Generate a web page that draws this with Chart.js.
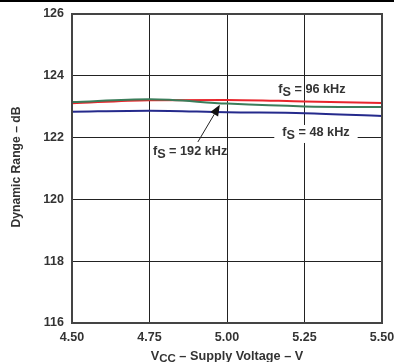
<!DOCTYPE html>
<html>
<head>
<meta charset="utf-8">
<script src="https://cdn.jsdelivr.net/npm/chart.js@4/dist/chart.umd.min.js"></script>
<style>
  html, body { margin: 0; padding: 0; background: #fff; }
  #wrap { width: 394px; height: 362px; position: relative; }
</style>
</head>
<body>
<div id="wrap"><canvas id="chart" width="394" height="362"></canvas></div>
<script>
// supply voltage (V)
const voltages = [4.50, 4.75, 5.00, 5.25, 5.50];
// dynamic range (dB) for each sampling rate
const fs96 = [123.11, 123.21, 123.22, 123.17, 123.12];
const fs192 = [123.15, 123.24, 123.10, 123.01, 122.99];
const fs48 = [122.84, 122.87, 122.82, 122.79, 122.70];

const xTicks = [4.50, 4.75, 5.00, 5.25, 5.50];
const yTicks = [116, 118, 120, 122, 124, 126];

// curve labels, in data units
const labels = [
  { main: "f", sub: "S", rest: " = 96 kHz", x: 5.274, y: 123.57, bg: false },
  { main: "f", sub: "S", rest: " = 48 kHz", x: 5.287, y: 122.15, bg: true },
  { main: "f", sub: "S", rest: " = 192 kHz", x: 4.881, y: 121.54, bg: false }
];
const arrowFrom = { x: 4.906, y: 121.86 };
const arrowTo = { x: 4.977, y: 123.06 };

const FONT = "'Liberation Sans', Arial, sans-serif";

function toPoints(vals) {
  return vals.map((v, i) => ({ x: voltages[i], y: v }));
}

function drawSubText(ctx, parts, cx, cy, size) {
  ctx.font = "bold " + size + "px " + FONT;
  const w1 = ctx.measureText(parts.main).width;
  const w2 = ctx.measureText(parts.sub).width;
  const w3 = ctx.measureText(parts.rest).width;
  const total = w1 + w2 + w3;
  let x = cx - total / 2;
  ctx.textBaseline = "middle";
  ctx.textAlign = "left";
  ctx.fillText(parts.main, x, cy);
  x += w1;
  ctx.fillText(parts.sub, x, cy + 3);
  x += w2;
  ctx.fillText(parts.rest, x, cy);
  return total;
}

const extras = {
  id: "extras",
  afterDatasetsDraw(chart) {
    const ctx = chart.ctx;
    const xs = chart.scales.x, ys = chart.scales.y;
    const area = chart.chartArea;
    ctx.save();
    // frame
    ctx.strokeStyle = "#444";
    ctx.lineWidth = 2;
    ctx.strokeRect(area.left, area.top, area.right - area.left, area.bottom - area.top);

    // curve labels
    ctx.fillStyle = "#333";
    labels.forEach((l) => {
      const px = xs.getPixelForValue(l.x);
      const py = ys.getPixelForValue(l.y);
      ctx.font = "bold 12.7px " + FONT;
      const w = ctx.measureText(l.main + l.sub + l.rest).width;
      if (l.bg) {
        ctx.fillStyle = "#fff";
        ctx.fillRect(px - w / 2 - 8, py - 8, w + 16, 18);
        ctx.fillStyle = "#333";
      }
      drawSubText(ctx, l, px, py, 12.7);
    });

    // arrow
    const ax = xs.getPixelForValue(arrowFrom.x), ay = ys.getPixelForValue(arrowFrom.y);
    const bx = xs.getPixelForValue(arrowTo.x), by = ys.getPixelForValue(arrowTo.y);
    const ang = Math.atan2(by - ay, bx - ax);
    const headLen = 11, headW = 4.5;
    ctx.strokeStyle = "#222";
    ctx.lineWidth = 1;
    ctx.beginPath();
    ctx.moveTo(ax, ay);
    ctx.lineTo(bx - Math.cos(ang) * headLen, by - Math.sin(ang) * headLen);
    ctx.stroke();
    ctx.fillStyle = "#111";
    ctx.beginPath();
    ctx.moveTo(bx, by);
    ctx.lineTo(bx - Math.cos(ang) * headLen - Math.sin(ang) * headW, by - Math.sin(ang) * headLen + Math.cos(ang) * headW);
    ctx.lineTo(bx - Math.cos(ang) * headLen + Math.sin(ang) * headW, by - Math.sin(ang) * headLen - Math.cos(ang) * headW);
    ctx.closePath();
    ctx.fill();

    // y axis title
    ctx.fillStyle = "#333";
    ctx.save();
    ctx.translate(17, 167);
    ctx.rotate(-Math.PI / 2);
    ctx.font = "bold 12.2px " + FONT;
    ctx.textAlign = "center";
    ctx.textBaseline = "middle";
    ctx.fillText("Dynamic Range \u2013 dB", 0, 0);
    ctx.restore();

    // x title with subscript CC
    const tx = (area.left + area.right) / 2, ty = 356;
    const mainFont = "bold 12.7px " + FONT, subFont = "bold 11.5px " + FONT;
    const p1 = "V", p3 = " \u2013 Supply Voltage \u2013 V";
    ctx.font = mainFont;
    const w1 = ctx.measureText(p1).width;
    const w3 = ctx.measureText(p3).width;
    ctx.font = subFont;
    const w2 = ctx.measureText("CC").width;
    let x = tx - (w1 + w2 + w3) / 2;
    ctx.textAlign = "left";
    ctx.textBaseline = "middle";
    ctx.font = mainFont;
    ctx.fillText(p1, x, ty);
    x += w1;
    ctx.font = subFont;
    ctx.fillText("CC", x, ty + 3);
    x += w2;
    ctx.font = mainFont;
    ctx.fillText(p3, x, ty);

    // black rule along the top edge
    ctx.fillStyle = "#000";
    ctx.fillRect(0, 0, chart.width, 2);
    ctx.restore();
  }
};

new Chart(document.getElementById("chart").getContext("2d"), {
  type: "line",
  data: {
    datasets: [
      { label: "fS = 48 kHz", data: toPoints(fs48), borderColor: "#252a8c" },
      { label: "fS = 192 kHz", data: toPoints(fs192), borderColor: "#3b7d5a" },
      { label: "fS = 96 kHz", data: toPoints(fs96), borderColor: "#e8262c" }
    ].map((d) => Object.assign(d, {
      borderWidth: 2,
      pointRadius: 0,
      fill: false,
      cubicInterpolationMode: "monotone",
      tension: 0.4
    }))
  },
  options: {
    responsive: false,
    animation: false,
    devicePixelRatio: 1,
    layout: { padding: { top: 14, right: 12, left: 0, bottom: 0 } },
    plugins: { legend: { display: false }, tooltip: { enabled: false } },
    scales: {
      x: {
        type: "linear",
        min: 4.5,
        max: 5.5,
        afterBuildTicks: (s) => { s.ticks = xTicks.map((v) => ({ value: v })); },
        afterFit: (s) => { s.height = 39; s.paddingRight = 0; s.paddingLeft = 0; },
        grid: { color: "#222", lineWidth: 1, drawTicks: false },
        border: { display: false },
        ticks: {
          padding: 7,
          color: "#333",
          font: { family: FONT, size: 12.5, weight: "bold" },
          maxRotation: 0,
          callback: (v) => Number(v).toFixed(2)
        }
      },
      y: {
        min: 116,
        max: 126,
        afterBuildTicks: (s) => { s.ticks = yTicks.map((v) => ({ value: v })); },
        afterFit: (s) => { s.width = 72; s.paddingTop = 0; s.paddingBottom = 0; },
        grid: { color: "#222", lineWidth: 1, drawTicks: false },
        border: { display: false },
        ticks: {
          padding: 8,
          color: "#333",
          font: { family: FONT, size: 12.5, weight: "bold" }
        }
      }
    }
  },
  plugins: [extras]
});
</script>
</body>
</html>
